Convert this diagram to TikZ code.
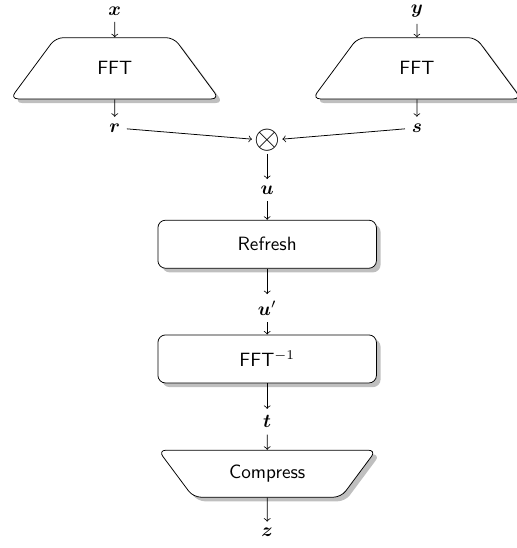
\documentclass[tikz,border=0pt]{standalone}
\usepackage{amsmath,bm}
\usetikzlibrary{shapes.geometric, shadows, positioning}

\tikzset{
  block/.style={draw, rounded corners, fill=white, drop shadow, font=\sffamily,
    minimum width=4cm, minimum height=0.88cm},
  fftbox/.style={trapezium, trapezium angle=55, trapezium stretches=true,
    draw, rounded corners, fill=white, drop shadow, font=\sffamily,
    minimum width=3.84cm, minimum height=1.12cm},
  squeeze/.style={fftbox, shape border rotate=180,
    minimum width=4cm, minimum height=0.86cm}
}

\begin{document}
\begin{tikzpicture}[->]

\useasboundingbox (0,0) rectangle (9.46,-10.03);

% inputs and their transforms
\node (x) at (2.10,-0.2) {$\bm{x}$};
\node (y) at (7.63,-0.2) {$\bm{y}$};
\node[fftbox] (fftx) at (2.10,-1.25) {FFT};
\node[fftbox] (ffty) at (7.63,-1.25) {FFT};
\node (r) at (2.10,-2.34) {$\bm{r}$};
\node (s) at (7.63,-2.34) {$\bm{s}$};

% pointwise product
\node[font=\LARGE, inner sep=1pt] (mult) at (4.89,-2.57) {$\otimes$};
\node (u) at (4.89,-3.48) {$\bm{u}$};

% chain below the product
\node[block] (refresh) at (4.89,-4.47) {Refresh};
\node (u2) at (4.89,-5.64) {$\bm{u}'$};
\node[block] (ifft) at (4.89,-6.57) {FFT$^{-1}$};
\node (t) at (4.89,-7.72) {$\bm{t}$};
\node[squeeze] (compress) at (4.89,-8.67) {Compress};
\node (z) at (4.89,-9.75) {$\bm{z}$};

\draw (x) -- (fftx);
\draw (y) -- (ffty);
\draw (fftx) -- (r);
\draw (ffty) -- (s);
\draw (r) -- (mult);
\draw (s) -- (mult);
\draw (mult) -- (u);
\draw (u) -- (refresh);
\draw (refresh) -- (u2);
\draw (u2) -- (ifft);
\draw (ifft) -- (t);
\draw (t) -- (compress);
\draw (compress) -- (z);

\end{tikzpicture}
\end{document}
